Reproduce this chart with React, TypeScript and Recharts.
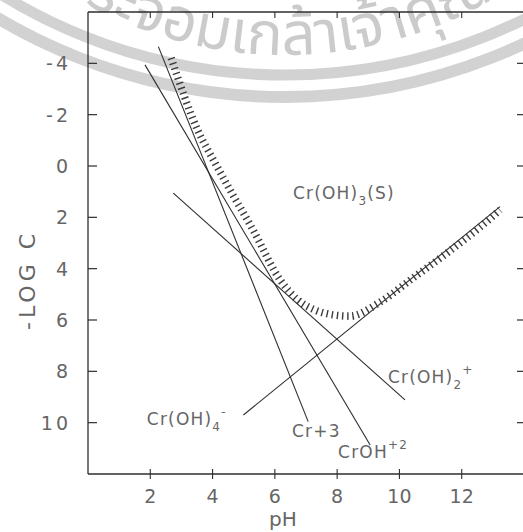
import React from 'react';
import { LineChart, Line, XAxis, YAxis, ReferenceDot } from 'recharts';

// axis ticks (pH along the bottom, -log C reversed down the side)
const phTicks = [2, 4, 6, 8, 10, 12];
const logTicks = [-4, -2, 0, 2, 4, 6, 8, 10];

// species lines, {x: pH, y: -log C}
const cr3 = [{ x: 2.26, y: -4.65 }, { x: 7.07, y: 9.96 }];
const crOH = [{ x: 1.83, y: -3.94 }, { x: 9.06, y: 10.87 }];
const crOH2 = [{ x: 2.74, y: 1.06 }, { x: 10.18, y: 9.11 }];
const crOH4 = [{ x: 4.99, y: 9.7 }, { x: 13.23, y: 1.58 }];

// total solubility boundary (the hatched curve)
const solubility = [
  { x: 2.67, y: -4.21 },
  { x: 3.52, y: -1.4 },
  { x: 4.08, y: -0.12 },
  { x: 4.56, y: 0.93 },
  { x: 5.3, y: 2.49 },
  { x: 6.17, y: 4.44 },
  { x: 6.74, y: 5.22 },
  { x: 7.29, y: 5.61 },
  { x: 7.87, y: 5.8 },
  { x: 8.4, y: 5.85 },
  { x: 9.38, y: 5.3 },
  { x: 10.44, y: 4.36 },
  { x: 11.53, y: 3.39 },
  { x: 12.59, y: 2.38 },
  { x: 13.23, y: 1.71 },
];

// species labels: [pH, -log C, text parts]  (part kinds: n = normal, sub, sup)
type Part = [string, 'n' | 'sub' | 'sup'];
const labels: { x: number; y: number; parts: Part[] }[] = [
  { x: 6.58, y: 1.28, parts: [['Cr(OH)', 'n'], ['3', 'sub'], ['(S)', 'n']] },
  { x: 9.63, y: 8.45, parts: [['Cr(OH)', 'n'], ['2', 'sub'], ['+', 'sup']] },
  { x: 1.89, y: 10.09, parts: [['Cr(OH)', 'n'], ['4', 'sub'], ['-', 'sup']] },
  { x: 6.55, y: 10.56, parts: [['Cr+3', 'n']] },
  { x: 8.03, y: 11.37, parts: [['CrOH', 'n'], ['+2', 'sup']] },
];

const ink = '#2e2e2e';
const textGray = '#666';
const font = '"DejaVu Sans", sans-serif';

const LeftTick = (props: any) => {
  const { x, y, payload } = props;
  return (
    <g>
      <line x1={x} y1={y} x2={x + 9} y2={y} stroke={ink} strokeWidth={1.2} />
      <text x={x - 17} y={y} dy="0.36em" textAnchor="end" fontSize={19} fill={textGray}
        fontFamily={font} letterSpacing={3}>
        {payload.value}
      </text>
    </g>
  );
};

const RightTick = (props: any) => {
  const { x, y } = props;
  return <line x1={x - 7} y1={y} x2={x} y2={y} stroke={ink} strokeWidth={1.2} />;
};

const BottomTick = (props: any) => {
  const { x, y, payload } = props;
  return (
    <g>
      <line x1={x} y1={y - 5} x2={x} y2={y + 5} stroke={ink} strokeWidth={1.1} />
      <text x={x} y={y + 29} textAnchor="middle" fontSize={19} fill={textGray} fontFamily={font}>
        {payload.value}
      </text>
    </g>
  );
};

const TopTick = (props: any) => {
  const { x, y } = props;
  return <line x1={x} y1={y} x2={x} y2={y + 6} stroke={ink} strokeWidth={1.1} />;
};

const YTitle = (props: any) => {
  const { viewBox } = props;
  const cx = viewBox.x + 27;
  const cy = 280;
  return (
    <text x={cx} y={cy} transform={`rotate(-90 ${cx} ${cy})`} textAnchor="middle" dy="0.36em"
      fontSize={22} fill={textGray} fontFamily={font} letterSpacing={4}>
      -LOG C
    </text>
  );
};

const XTitle = (props: any) => {
  const { viewBox } = props;
  return (
    <text x={viewBox.x + viewBox.width * 0.447} y={viewBox.y + 52} textAnchor="middle"
      fontSize={20} fill={textGray} fontFamily={font}>
      pH
    </text>
  );
};

const SpeciesLabel = (props: any) => {
  const { viewBox, parts } = props;
  let shift = 0;
  return (
    <text x={viewBox.x} y={viewBox.y} fontSize={17} fill={textGray} fontFamily={font} letterSpacing={1.2}>
      {parts.map((p: Part, i: number) => {
        const target = p[1] === 'sub' ? 6 : p[1] === 'sup' ? -9 : 0;
        const dy = target - shift;
        shift = target;
        return (
          <tspan key={i} dy={dy} fontSize={p[1] === 'n' ? 17 : 12}>
            {p[0]}
          </tspan>
        );
      })}
    </text>
  );
};

// scanned stamp in the background
const Watermark = () => (
  <svg width={523} height={532} style={{ position: 'absolute', left: 0, top: 0 }}>
    <defs>
      <path id="wm-arc" d="M -20 -80 A 412 412 0 0 0 590 -80" />
    </defs>
    <circle cx={285} cy={-465} r={540} fill="none" stroke="#d2d2d2" strokeWidth={11} />
    <circle cx={285} cy={-465} r={562} fill="none" stroke="#d2d2d2" strokeWidth={12} />
    <text fontSize={60} fill="#cbcbcb" fontFamily='"Noto Sans Thai", "Noto Sans", sans-serif'>
      <textPath href="#wm-arc" startOffset={92}>พระจอมเกล้าเจ้าคุณ</textPath>
    </text>
  </svg>
);

export default function App() {
  return (
    <div style={{ position: 'absolute', left: 0, top: 0, width: 523, height: 532, overflow: 'hidden', background: '#fff' }}>
      <Watermark />
      <div style={{ position: 'absolute', left: 0, top: 0 }}>
        <LineChart width={530} height={532} margin={{ top: 0, right: 0, bottom: 0, left: 0 }}>
          <XAxis dataKey="x" type="number" domain={[0, 14]} ticks={phTicks} allowDataOverflow
            height={58} tickSize={0} tickMargin={0} tick={<BottomTick />}
            axisLine={{ stroke: ink, strokeWidth: 1.3 }} label={<XTitle />} />
          <XAxis xAxisId="top" orientation="top" dataKey="x" type="number" domain={[0, 14]} ticks={phTicks}
            allowDataOverflow height={12} tickSize={0} tickMargin={0} tick={<TopTick />}
            axisLine={{ stroke: ink, strokeWidth: 1.3 }} />
          <YAxis type="number" domain={[-6, 12]} reversed ticks={logTicks} allowDataOverflow width={88}
            tickSize={0} tickMargin={0} tick={<LeftTick />} axisLine={{ stroke: ink, strokeWidth: 1.3 }}
            label={<YTitle />} />
          <YAxis yAxisId="r" orientation="right" type="number" domain={[-6, 12]} reversed ticks={logTicks}
            allowDataOverflow width={6} tickSize={0} tickMargin={0} tick={<RightTick />}
            axisLine={{ stroke: ink, strokeWidth: 1.3 }} />

          <Line data={cr3} dataKey="y" type="linear" stroke={ink} strokeWidth={1.1} dot={false} isAnimationActive={false} />
          <Line data={crOH} dataKey="y" type="linear" stroke={ink} strokeWidth={1.1} dot={false} isAnimationActive={false} />
          <Line data={crOH2} dataKey="y" type="linear" stroke={ink} strokeWidth={1.1} dot={false} isAnimationActive={false} />
          <Line data={crOH4} dataKey="y" type="linear" stroke={ink} strokeWidth={1.1} dot={false} isAnimationActive={false} />
          <Line data={solubility} dataKey="y" type="monotone" stroke="#3a3a3a" strokeWidth={7.5}
            strokeDasharray="1.4 3.8" dot={false} isAnimationActive={false} />

          {labels.map((l, i) => (
            <ReferenceDot key={i} x={l.x} y={l.y} r={0} stroke="none" fill="none"
              label={<SpeciesLabel parts={l.parts} />} />
          ))}
        </LineChart>
      </div>
    </div>
  );
}
